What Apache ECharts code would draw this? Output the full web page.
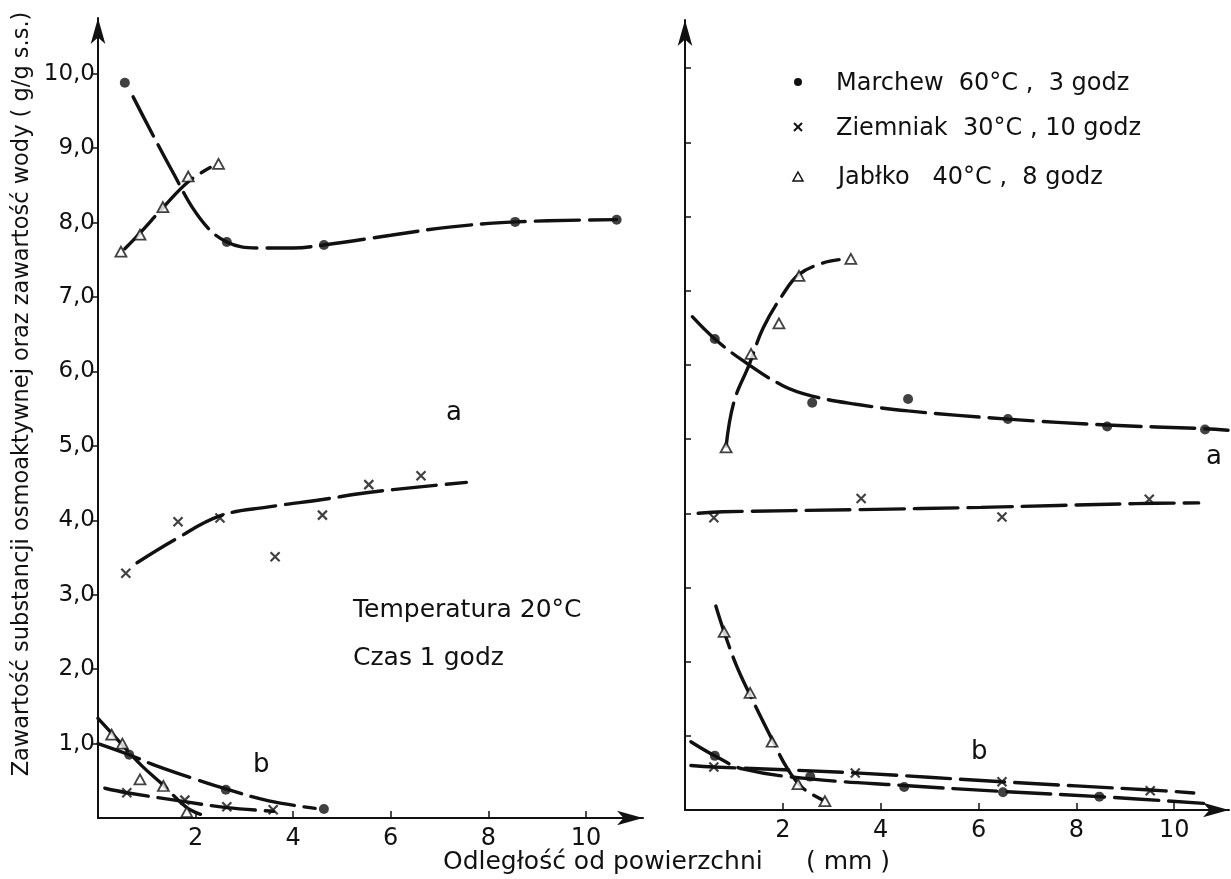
<!DOCTYPE html>
<html>
<head>
<meta charset="utf-8">
<script src="https://cdn.jsdelivr.net/npm/echarts@6/dist/echarts.min.js"></script>
<style>
  html, body { margin: 0; background: #fff; }
  #chart { width: 1231px; height: 879px; }
</style>
</head>
<body>
<div id="chart"></div>
<script>
// --- left panel (20°C, 1 godz) ---
const leftMarchewA = [[0.55, 9.88], [2.64, 7.74], [4.63, 7.70], [8.55, 8.01], [10.63, 8.04]];
const leftMarchewACurve = [[0.72, 9.69], [1.54, 8.67], [2.1, 8.05], [2.64, 7.74], [3.3, 7.66], [4.0, 7.66], [4.63, 7.70], [6.0, 7.83], [7.2, 7.94], [8.55, 8.01], [10.63, 8.04]];
const leftJablkoA = [[0.47, 7.61], [0.86, 7.84], [1.33, 8.21], [1.85, 8.62], [2.47, 8.79]];
const leftJablkoACurve = [[0.55, 7.65], [0.86, 7.86], [1.33, 8.2], [1.85, 8.55], [2.3, 8.74]];
const leftZiemniakA = [[0.57, 3.29], [1.64, 3.98], [2.5, 4.03], [3.63, 3.51], [4.6, 4.07], [5.55, 4.48], [6.62, 4.6]];
const leftZiemniakACurve = [[0.8, 3.43], [1.6, 3.75], [2.5, 4.06], [3.5, 4.18], [4.6, 4.28], [5.5, 4.37], [6.6, 4.45], [7.55, 4.51]];
const leftMarchewB = [[0.64, 0.85], [2.62, 0.38], [4.63, 0.12]];
const leftMarchewBCurve = [[0.0, 1.0], [0.64, 0.85], [1.2, 0.7], [2.0, 0.52], [2.62, 0.39], [3.5, 0.23], [4.45, 0.13]];
const leftJablkoB = [[0.28, 1.12], [0.5, 1.0], [0.86, 0.52], [1.34, 0.43], [1.82, 0.08]];
const leftJablkoBCurve = [[0.0, 1.34], [0.28, 1.14], [0.5, 0.98], [0.9, 0.7], [1.34, 0.44], [1.8, 0.15], [2.1, 0.05]];
const leftZiemniakB = [[0.59, 0.34], [1.78, 0.24], [2.64, 0.15], [3.59, 0.11]];
const leftZiemniakBCurve = [[0.14, 0.4], [0.59, 0.34], [1.78, 0.22], [2.64, 0.14], [3.6, 0.09]];

// --- right panel (legend conditions) ---
const rightMarchewA = [[0.61, 6.35], [2.6, 5.49], [4.56, 5.54], [6.6, 5.27], [8.63, 5.17], [10.63, 5.13]];
const rightMarchewACurve = [[0.15, 6.65], [0.61, 6.35], [1.2, 6.05], [2.0, 5.72], [2.6, 5.58], [3.5, 5.47], [4.56, 5.38], [6.6, 5.27], [8.63, 5.19], [10.63, 5.14], [11.1, 5.12]];
const rightJablkoA = [[0.84, 4.89], [1.35, 6.15], [1.92, 6.56], [2.33, 7.2], [3.39, 7.43]];
const rightJablkoACurve = [[0.84, 4.9], [1.0, 5.5], [1.31, 6.0], [1.6, 6.5], [2.0, 6.95], [2.33, 7.22], [2.8, 7.37], [3.15, 7.42]];
const rightZiemniakA = [[0.59, 3.94], [3.6, 4.2], [6.48, 3.95], [9.49, 4.19]];
const rightZiemniakACurve = [[0.27, 4.0], [0.78, 4.02], [3.6, 4.05], [6.05, 4.08], [9.2, 4.13], [10.5, 4.14]];
const rightJablkoB = [[0.8, 2.4], [1.33, 1.58], [1.78, 0.92], [2.31, 0.35], [2.86, 0.12]];
const rightJablkoBCurve = [[0.63, 2.75], [0.8, 2.4], [1.05, 1.95], [1.33, 1.55], [1.78, 0.95], [2.1, 0.55], [2.4, 0.3], [2.8, 0.14]];
const rightMarchewB = [[0.61, 0.73], [2.56, 0.45], [4.48, 0.31], [6.5, 0.24], [8.47, 0.18]];
const rightMarchewBCurve = [[0.12, 0.92], [0.61, 0.73], [1.2, 0.55], [2.56, 0.42], [4.48, 0.33], [6.5, 0.25], [8.47, 0.18], [10.6, 0.09]];
const rightZiemniakB = [[0.59, 0.58], [3.48, 0.5], [6.48, 0.38], [9.51, 0.26]];
const rightZiemniakBCurve = [[0.12, 0.6], [0.59, 0.58], [3.48, 0.5], [6.48, 0.38], [9.51, 0.27], [10.4, 0.23]];

const xTicks = [2, 4, 6, 8, 10];
const yTicks = [1, 2, 3, 4, 5, 6, 7, 8, 9, 10];
const legendNames = ["Marchew  60°C ,  3 godz", "Ziemniak  30°C , 10 godz", "Jabłko   40°C ,  8 godz"];

const FONT = "DejaVu Sans";
const INK = "#111";

const chart = echarts.init(document.getElementById("chart"), null, { renderer: "canvas" });

const CROSS = "path://M0,0L10,10M10,0L0,10";

function markers(data, kind, gi) {
  const s = {
    type: "scatter",
    xAxisIndex: gi,
    yAxisIndex: gi,
    data: data,
    z: 5,
    silent: true,
  };
  if (kind === "dot") {
    s.symbol = "circle";
    s.symbolSize = 10;
    s.itemStyle = { color: INK };
  } else if (kind === "cross") {
    s.symbol = CROSS;
    s.symbolSize = 9;
    s.itemStyle = { color: "transparent", borderColor: INK, borderWidth: 2.2 };
  } else {
    s.symbol = "triangle";
    s.symbolSize = [11, 10];
    s.itemStyle = { color: "#fff", borderColor: INK, borderWidth: 1.8 };
  }
  return s;
}

function curve(data, gi) {
  return {
    type: "line",
    xAxisIndex: gi,
    yAxisIndex: gi,
    data: data,
    smooth: 0.4,
    showSymbol: false,
    silent: true,
    z: 3,
    lineStyle: { color: INK, width: 3.4, type: [44, 10], cap: "round" },
  };
}

function xAxis(gi, max) {
  return {
    type: "value",
    gridIndex: gi,
    min: 0,
    max: max,
    interval: 2,
    axisLine: {
      show: true,
      onZero: false,
      symbol: ["none", "arrow"],
      symbolSize: [11, 26],
      lineStyle: { color: INK, width: 2 },
    },
    axisTick: { inside: true, length: 7, customValues: xTicks, lineStyle: { color: INK, width: 1.5 } },
    axisLabel: { customValues: xTicks, margin: 9, fontSize: 24, color: INK, fontFamily: FONT },
    splitLine: { show: false },
  };
}

function yAxis(gi, max, labels) {
  return {
    type: "value",
    gridIndex: gi,
    min: 0,
    max: max,
    interval: 1,
    axisLine: {
      show: true,
      onZero: false,
      symbol: ["none", "arrow"],
      symbolSize: [11, 26],
      lineStyle: { color: INK, width: 2 },
    },
    axisTick: { inside: !labels, length: 6, customValues: yTicks, lineStyle: { color: INK, width: 1.5 } },
    axisLabel: {
      show: labels,
      customValues: yTicks,
      margin: 3,
      fontSize: 23,
      color: INK,
      fontFamily: FONT,
      formatter: (v) => v.toFixed(1).replace(".", ","),
    },
    splitLine: { show: false },
  };
}

function txt(text, x, y, size, align) {
  return {
    type: "text",
    x: x,
    y: y,
    silent: true,
    style: {
      text: text,
      font: size + "px '" + FONT + "'",
      fill: INK,
      textAlign: align || "left",
      textVerticalAlign: "middle",
    },
  };
}

const yTitle = txt("Zawartość substancji osmoaktywnej oraz zawartość wody ( g/g s.s.)", 22, 394, 22.5, "center");
yTitle.rotation = Math.PI / 2;

const option = {
  backgroundColor: "#fff",
  animation: false,
  grid: [
    { left: 98, top: 18, width: 545, bottom: 61 },
    { left: 685, top: 20, width: 544, bottom: 69 },
  ],
  xAxis: [xAxis(0, 11.17), xAxis(1, 11.12)],
  yAxis: [yAxis(0, 10.75, true), yAxis(1, 10.65, false)],
  series: [
    curve(leftMarchewACurve, 0), markers(leftMarchewA, "dot", 0),
    curve(leftJablkoACurve, 0), markers(leftJablkoA, "tri", 0),
    curve(leftZiemniakACurve, 0), markers(leftZiemniakA, "cross", 0),
    curve(leftMarchewBCurve, 0), markers(leftMarchewB, "dot", 0),
    curve(leftJablkoBCurve, 0), markers(leftJablkoB, "tri", 0),
    curve(leftZiemniakBCurve, 0), markers(leftZiemniakB, "cross", 0),
    curve(rightMarchewACurve, 1), markers(rightMarchewA, "dot", 1),
    curve(rightJablkoACurve, 1), markers(rightJablkoA, "tri", 1),
    curve(rightZiemniakACurve, 1), markers(rightZiemniakA, "cross", 1),
    curve(rightJablkoBCurve, 1), markers(rightJablkoB, "tri", 1),
    curve(rightMarchewBCurve, 1), markers(rightMarchewB, "dot", 1),
    curve(rightZiemniakBCurve, 1), markers(rightZiemniakB, "cross", 1),
  ],
  graphic: [
    // axis titles
    yTitle,
    txt("Odległość od powierzchni", 443, 862, 25),
    txt("( mm )", 806, 862, 25),
    // panel annotations
    txt("a", 446, 413, 26),
    txt("b", 253, 765, 26),
    txt("Temperatura 20°C", 353, 610, 25),
    txt("Czas 1 godz", 353, 658, 25),
    txt("a", 1206, 457, 26),
    txt("b", 971, 752, 26),
    // legend
    { type: "circle", silent: true, shape: { cx: 798, cy: 82, r: 4 }, style: { fill: INK } },
    { type: "line", silent: true, shape: { x1: 794, y1: 123, x2: 802, y2: 131 }, style: { stroke: INK, lineWidth: 2 } },
    { type: "line", silent: true, shape: { x1: 802, y1: 123, x2: 794, y2: 131 }, style: { stroke: INK, lineWidth: 2 } },
    { type: "polygon", silent: true, shape: { points: [[798, 172], [803, 181], [793, 181]] }, style: { fill: "#fff", stroke: INK, lineWidth: 1.5 } },
    txt(legendNames[0], 836, 84, 24),
    txt(legendNames[1], 836, 129, 24),
    txt(legendNames[2], 838, 178, 24),
  ],
};

chart.setOption(option);
</script>
</body>
</html>
